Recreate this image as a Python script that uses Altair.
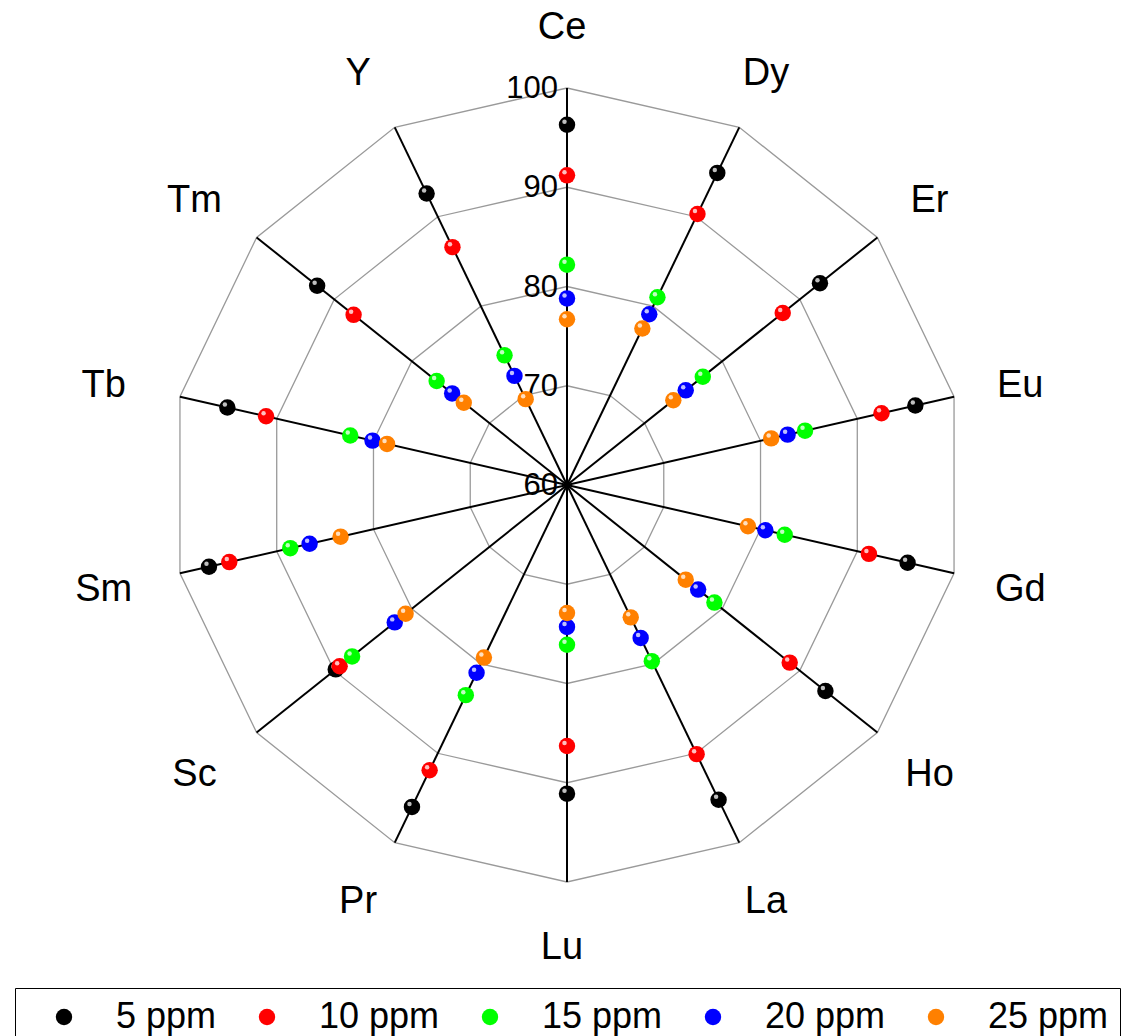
import altair as alt
import pandas as pd

# ---------------- data ----------------
categories = ["Ce", "Dy", "Er", "Eu", "Gd", "Ho", "La", "Lu", "Pr", "Sc", "Sm", "Tb", "Tm", "Y"]
series = ["5 ppm", "10 ppm", "15 ppm", "20 ppm", "25 ppm"]
colors = ["#000000", "#ff0000", "#00ff00", "#0000ff", "#ff8000"]

vals_5 = [96.3, 94.9, 92.6, 96.0, 95.2, 93.3, 95.2, 91.1, 96.0, 89.8, 97.0, 95.1, 92.2, 92.6]
vals_10 = [91.2, 90.3, 87.8, 92.5, 91.2, 88.7, 90.1, 86.3, 91.9, 89.3, 94.9, 91.1, 87.5, 86.6]
vals_15 = [82.2, 81.0, 77.5, 84.6, 82.5, 79.0, 79.7, 76.1, 83.5, 87.7, 88.6, 82.4, 76.8, 74.5]
vals_20 = [78.8, 79.1, 75.3, 82.8, 80.5, 76.9, 77.1, 74.3, 81.0, 82.2, 86.6, 80.1, 74.8, 72.2]
vals_25 = [76.7, 77.5, 73.7, 81.1, 78.7, 75.3, 74.8, 72.9, 79.3, 80.8, 83.4, 78.6, 73.3, 69.6]

grid_levels = [70, 80, 90, 100]
tick_values = [60, 70, 80, 90, 100]
tick_labels = ["60", "70", "80", "90", "100"]
r_min, r_max = 60, 100
label_rx, label_ry = 107.36, 106.30   # where the category names sit, in axis units

N = len(categories)
all_vals = [vals_5, vals_10, vals_15, vals_20, vals_25]

# ---------------- tables ----------------
pts = pd.DataFrame(
    [
        {"series": s, "cat": c, "idx": i, "value": v}
        for s, vals in zip(series, all_vals)
        for i, (c, v) in enumerate(zip(categories, vals))
    ]
)
grid = pd.DataFrame(
    [{"level": lv, "idx": i, "value": lv} for lv in grid_levels for i in range(N + 1)]
)
spokes = pd.DataFrame([{"idx": i, "value": r_max} for i in range(N)])
cat_df = pd.DataFrame([{"cat": c, "idx": i} for i, c in enumerate(categories)])
tick_df = pd.DataFrame([{"label": t, "idx": 0, "value": v} for t, v in zip(tick_labels, tick_values)])

ang = f"2*PI*datum.idx/{N}"
calc = dict(
    x=f"(datum.value-{r_min})*sin({ang})",
    y=f"(datum.value-{r_min})*cos({ang})",
    zero="0",
)
cat_calc = dict(
    x=f"({label_rx}-{r_min})*sin({ang})",
    y=f"({label_ry}-{r_min})*cos({ang})",
)

# ---------------- scales ----------------
k = 397 / 40.0
W, H = 1114, 1028
cx, cy = 559, 477
xs = alt.Scale(domain=[-cx / k, (W - cx) / k], nice=False, zero=False)
ys = alt.Scale(domain=[-(H - cy) / k, cy / k], nice=False, zero=False)
X = lambda f: alt.X(f"{f}:Q", scale=xs, axis=None)
Y = lambda f: alt.Y(f"{f}:Q", scale=ys, axis=None)

FONT = "Liberation Sans"

grid_layer = (
    alt.Chart(grid)
    .transform_calculate(**calc)
    .mark_line(color="#9a9a9a", strokeWidth=1.3)
    .encode(x=X("x"), y=Y("y"), detail="level:N", order="idx:Q")
)

spoke_layer = (
    alt.Chart(spokes)
    .transform_calculate(**calc)
    .mark_rule(color="black", strokeWidth=2)
    .encode(x=X("zero"), y=Y("zero"), x2="x:Q", y2="y:Q")
)

cat_layer = (
    alt.Chart(cat_df)
    .transform_calculate(**cat_calc)
    .mark_text(fontSize=38, font=FONT, color="black", align="center", baseline="middle", dx=-5, dy=3)
    .encode(x=X("x"), y=Y("y"), text="cat:N")
)

tick_layer = (
    alt.Chart(tick_df)
    .transform_calculate(**calc)
    .mark_text(fontSize=31, font=FONT, color="black", align="right", baseline="middle", dx=-9, dy=1)
    .encode(x=X("x"), y=Y("y"), text="label:N")
)

legend = alt.Legend(
    title=" ",
    titleOrient="left",
    titleFontSize=36,
    titlePadding=20,
    orient="none",
    legendX=7,
    legendY=980,
    direction="horizontal",
    columns=5,
    labelFont=FONT,
    labelFontSize=36,
    labelColor="black",
    symbolType="circle",
    symbolSize=270,
    symbolStrokeWidth=0,
    labelOffset=34,
    columnPadding=32,
    padding=11,
    strokeColor="black",
    fillColor="white",
)

point_layers = []
for s in series:
    base = alt.Chart(pts).transform_filter(alt.datum.series == s).transform_calculate(**calc)
    point_layers.append(
        base.mark_circle(size=270, opacity=1).encode(
            x=X("x"),
            y=Y("y"),
            color=alt.Color("series:N", scale=alt.Scale(domain=series, range=colors), legend=legend),
        )
    )
    point_layers.append(
        base.mark_circle(size=20, color="white", opacity=0.75, xOffset=-2.5, yOffset=-3).encode(
            x=X("x"), y=Y("y")
        )
    )

chart = (
    alt.layer(grid_layer, spoke_layer, tick_layer, cat_layer, *point_layers)
    .properties(width=W, height=H, padding=0, autosize=alt.AutoSizeParams(type="none"))
    .configure_view(stroke=None)
)

chart.save("out.html", embed_options={"renderer": "svg", "actions": False})
